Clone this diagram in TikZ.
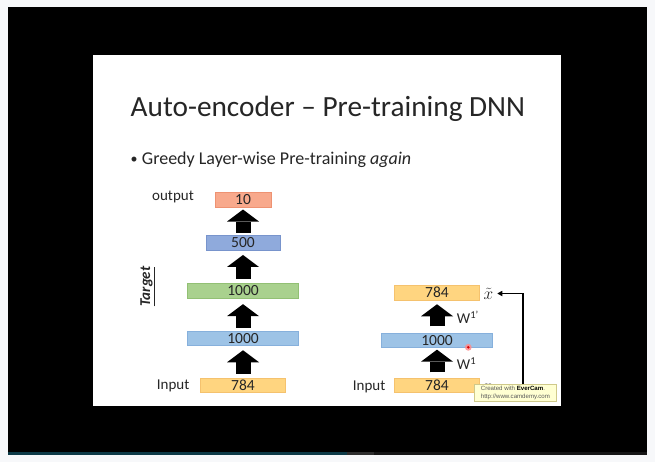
\documentclass[tikz,border=0pt]{standalone}
\usepackage{fontspec}
\setmainfont{Carlito}
\newfontfamily\wmfont{Liberation Sans}
\usetikzlibrary{arrows.meta}

\definecolor{pagebg}{HTML}{F7F8FA}
\definecolor{barteal}{HTML}{0D3A47}
\definecolor{bargray}{HTML}{2E2E2E}
\definecolor{bardark}{HTML}{161616}
\definecolor{inkdark}{HTML}{262626}
\definecolor{yelfill}{HTML}{FFD580}
\definecolor{yelline}{HTML}{F5C26E}
\definecolor{bluefill}{HTML}{9DC3E6}
\definecolor{blueline}{HTML}{86B0DC}
\definecolor{indfill}{HTML}{8FAADC}
\definecolor{indline}{HTML}{7894CC}
\definecolor{grnfill}{HTML}{A9D18E}
\definecolor{grnline}{HTML}{92C074}
\definecolor{salfill}{HTML}{F8A98C}
\definecolor{salline}{HTML}{EE9272}
\definecolor{wmfill}{HTML}{FFFFD2}
\definecolor{wmline}{HTML}{CFC98A}

\tikzset{
  layer/.style={rectangle, inner sep=0pt, minimum height=14.5pt, line width=0.6pt,
    font=\fontsize{15.5}{15.5}\selectfont, text=inkdark},
  yellayer/.style={layer, fill=yelfill, draw=yelline},
  bluelayer/.style={layer, fill=bluefill, draw=blueline},
  indlayer/.style={layer, fill=indfill, draw=indline},
  grnlayer/.style={layer, fill=grnfill, draw=grnline},
  sallayer/.style={layer, fill=salfill, draw=salline},
  lbl/.style={inner sep=0pt, anchor=base west, font=\fontsize{15}{15}\selectfont, text=inkdark},
  blockarrow/.style={draw=black, line width=15pt,
    -{Triangle[length=12pt, width=32pt, line width=0pt]}},
  feedback/.style={draw=black, line width=1.2pt,
    -{Triangle[length=5pt, width=5.5pt, line width=0pt]}},
}

\begin{document}
\begin{tikzpicture}[x=1pt, y=-1pt]
  \useasboundingbox (0,0) rectangle (655,462);

  % screen frame and slide
  \fill[pagebg] (0,0) rectangle (655,462);
  \fill[black] (8,7) rectangle (647,452);
  \fill[barteal] (8,452) rectangle (347,455);
  \fill[bargray] (347,452) rectangle (374,455);
  \fill[bardark] (374,452) rectangle (647,455);
  \fill[white] (93.3,55) rectangle (561,406);

  % heading and bullet
  \node[inner sep=0pt, anchor=base west, font=\fontsize{29.3}{29.3}\selectfont, text=inkdark]
    (title) at (130.5,116.7) {Auto-encoder -- Pre-training DNN};
  \node[inner sep=0pt, anchor=base west, font=\fontsize{14}{14}\selectfont, text=inkdark]
    (bullet) at (130.5,163.5) {\textbullet};
  \node[inner sep=0pt, anchor=base west, font=\fontsize{18}{18}\selectfont, text=inkdark]
    (point) at (141.7,165) {Greedy Layer-wise Pre-training \textit{again}};

  % full network (left)
  \node[sallayer, minimum width=56pt]    (out)  at (243,199.7) {10};
  \node[indlayer, minimum width=74pt]    (h3)   at (243,242.8) {500};
  \node[grnlayer, minimum width=110.5pt] (h2)   at (243,290.8) {1000};
  \node[bluelayer, minimum width=110.5pt](h1)   at (243,338.3) {1000};
  \node[yellayer, minimum width=85pt]    (inL)  at (243,385.5) {784};

  \draw[blockarrow, shorten <=2.3pt, shorten >=2.3pt] (h3.north) -- (out.south);
  \draw[blockarrow, shorten <=4.6pt, shorten >=4.6pt] (h2.north) -- (h3.south);
  \draw[blockarrow, shorten <=2.8pt, shorten >=5.8pt] (h1.north) -- (h2.south);
  \draw[blockarrow, shorten <=4.4pt, shorten >=4.4pt] (inL.north) -- (h1.south);

  \node[lbl] (outlbl) at (152,200.7) {output};
  \node[lbl] (inLlbl) at (156.7,389.3) {Input};
  \node[inner sep=0pt, rotate=90, font=\fontsize{15}{15}\selectfont\bfseries\itshape, text=inkdark]
    (target) at (147.5,286.5) {\underline{Target}};

  % auto-encoder (right)
  \node[yellayer, minimum width=85pt]    (rec)  at (437,292.7) {784};
  \node[bluelayer, minimum width=110.5pt](code) at (437,340.5) {1000};
  \node[yellayer, minimum width=85pt]    (inR)  at (437,385.4) {784};

  \draw[blockarrow, shorten <=5.6pt, shorten >=1.6pt] (inR.north) -- (code.south);
  \draw[blockarrow, shorten <=6.6pt, shorten >=4pt] (code.north) -- (rec.south);

  \node[lbl] (inRlbl) at (352.7,390) {Input};
  \node[lbl] (w1)  at (456.7,369.3) {W\textsuperscript{1}};
  \node[lbl] (w1p) at (456.7,323.3) {W\textsuperscript{1’}};

  \node[inner sep=0pt, font=\fontsize{17}{17}\selectfont, text=inkdark] (xt) at (488.3,293.5) {$\tilde{x}$};
  \node[inner sep=0pt, font=\fontsize{17}{17}\selectfont, text=inkdark] (xin) at (487.5,388) {$x$};
  \coordinate (turn) at (523,388);
  \draw[feedback, shorten >=4pt] (xin.east) -- (turn) -- (turn |- xt.east) -- (xt.east);

  % pointer dot
  \fill[red!45!white, opacity=0.85] (468.3,347.3) circle (3.4pt);
  \fill[red!85!black] (468.3,347.3) circle (1.4pt);

  % recorder watermark
  \node[draw=wmline, fill=wmfill, line width=0.5pt, minimum width=81.7pt, minimum height=16.7pt,
    inner sep=0pt, anchor=north west, align=left, text=black!65,
    font=\wmfont\fontsize{6.1}{7.6}\selectfont] (wm) at (474.3,384.3)
    {Created with \textbf{\color{black}EverCam}.\\http://www.camdemy.com};
\end{tikzpicture}
\end{document}
